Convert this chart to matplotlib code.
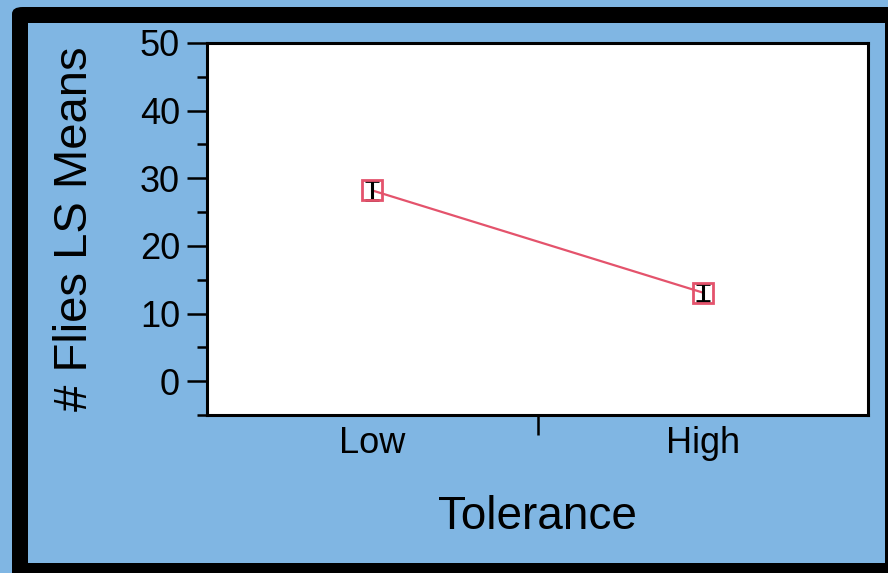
import matplotlib
matplotlib.use("Agg")
import matplotlib.pyplot as plt
from matplotlib.patches import FancyBboxPatch, Rectangle
from matplotlib.ticker import FixedLocator, NullFormatter, FixedFormatter

plt.rcParams['font.family'] = ['Liberation Sans', 'DejaVu Sans']

categories = ["Low", "High"]
means = [28.2, 13.1]
errors = [1.4, 1.2]
ylabel = "# Flies LS Means"
xlabel = "Tolerance"

W, H = 888, 573
blue = '#80b6e3'
fig = plt.figure(figsize=(W / 100, H / 100), dpi=100)
fig.patch.set_facecolor(blue)

def px(x0, y0, x1, y1):
    return (x0 / W, 1 - y1 / H, (x1 - x0) / W, (y1 - y0) / H)

bx, by, bw, bh = px(12, 7, 900, 590)
fig.patches.append(FancyBboxPatch((bx, by), bw, bh, boxstyle="round,pad=0,rounding_size=0.012",
                                  transform=fig.transFigure, facecolor='black', edgecolor='none', zorder=0))
ix, iy, iw, ih = px(28, 23, 885, 563)
fig.patches.append(Rectangle((ix, iy), iw, ih, transform=fig.transFigure,
                             facecolor=blue, edgecolor='none', zorder=1))

ax = fig.add_axes([207 / W, 1 - 415 / H, (868 - 207) / W, (415 - 43) / H])
ax.set_facecolor('white')
ax.set_zorder(2)

xpos = [0.5, 1.5]
red = '#e4536c'
ax.plot(xpos, means, color=red, lw=1.6, zorder=3)
ax.errorbar(xpos, means, yerr=errors, fmt='none', ecolor='black', elinewidth=2.2,
            capsize=5, capthick=2.0, zorder=4)
ax.plot(xpos, means, linestyle='none', marker='s', markersize=15, markerfacecolor='none',
        markeredgecolor=red, markeredgewidth=2.0, zorder=5)

ax.set_xlim(0, 2)
ax.set_ylim(-5, 50)

for s in ax.spines.values():
    s.set_linewidth(2.2)
    s.set_color('black')

ax.yaxis.set_major_locator(FixedLocator([0, 10, 20, 30, 40, 50]))
ax.yaxis.set_minor_locator(FixedLocator([-5, 5, 15, 25, 35, 45]))
ax.tick_params(axis='y', which='major', direction='out', length=14.5, width=1.8,
               labelsize=26, pad=5)
ax.tick_params(axis='y', which='minor', direction='out', length=7.2, width=1.8)

ax.xaxis.set_major_locator(FixedLocator([1]))
ax.xaxis.set_major_formatter(NullFormatter())
ax.xaxis.set_minor_locator(FixedLocator(xpos))
ax.xaxis.set_minor_formatter(FixedFormatter(categories))
ax.tick_params(axis='x', which='major', direction='out', length=14.5, width=1.8)
ax.tick_params(axis='x', which='minor', length=0, labelsize=26, pad=8)

ax.set_ylabel(ylabel, fontsize=34)
ax.yaxis.set_label_coords(-0.2, 0.5)
ax.set_xlabel(xlabel, fontsize=33)
ax.xaxis.set_label_coords(0.5, -0.275)
ax.xaxis.label.set_va('center')
ax.yaxis.label.set_va('center')

fig.savefig("out.png", dpi=100, facecolor=fig.get_facecolor())
